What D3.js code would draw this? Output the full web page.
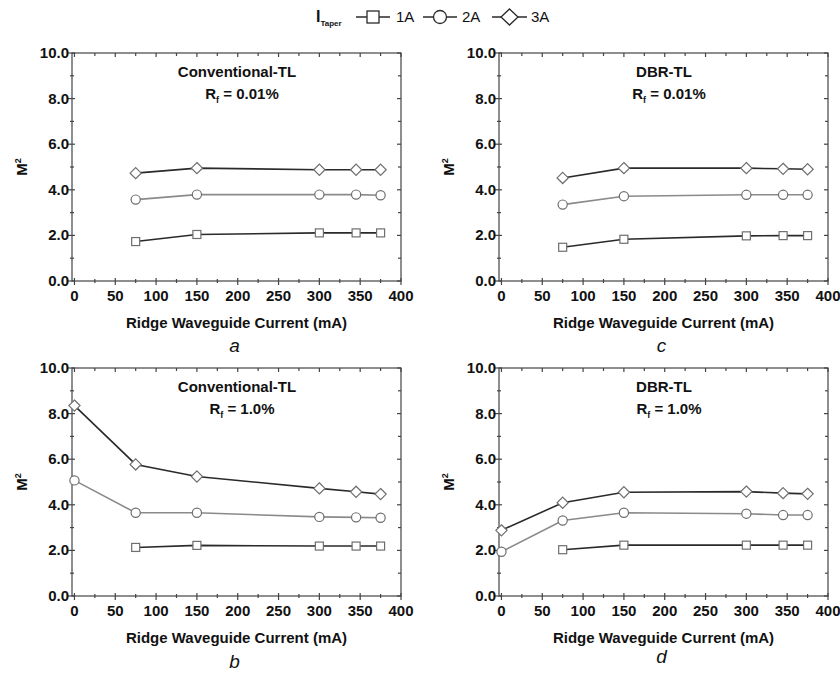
<!DOCTYPE html>
<html><head><meta charset="utf-8">
<script src="https://cdn.jsdelivr.net/npm/d3@7"></script>
<style>body{margin:0;background:#fff;} svg{display:block;font-family:"Liberation Sans",Arial,sans-serif;}</style>
</head><body>
<svg id="chart" width="840" height="675"></svg>
<script>
// ---- data ----
const currents = [0, 75, 150, 300, 345, 375];
const seriesNames = ["1A", "2A", "3A"];
const xTicks = [0, 50, 100, 150, 200, 250, 300, 350, 400];
const yTicks = [0, 2, 4, 6, 8, 10];
// null = no measurement
const convLow_1A = [null, 1.73, 2.04, 2.11, 2.11, 2.11];
const convLow_2A = [null, 3.57, 3.79, 3.79, 3.79, 3.76];
const convLow_3A = [null, 4.73, 4.95, 4.88, 4.88, 4.88];
const dbrLow_1A = [null, 1.48, 1.83, 1.98, 1.99, 1.99];
const dbrLow_2A = [null, 3.35, 3.72, 3.78, 3.78, 3.78];
const dbrLow_3A = [null, 4.52, 4.95, 4.95, 4.92, 4.90];
const convHigh_1A = [null, 2.13, 2.22, 2.19, 2.19, 2.19];
const convHigh_2A = [5.07, 3.65, 3.65, 3.47, 3.45, 3.43];
const convHigh_3A = [8.35, 5.77, 5.24, 4.72, 4.57, 4.47];
const dbrHigh_1A = [null, 2.03, 2.23, 2.23, 2.23, 2.23];
const dbrHigh_2A = [1.94, 3.31, 3.65, 3.61, 3.55, 3.55];
const dbrHigh_3A = [2.88, 4.09, 4.55, 4.58, 4.51, 4.48];

const panels = [
  {title: "Conventional-TL", rf: "0.01%", letter: "a", series: [convLow_1A, convLow_2A, convLow_3A], box: [72, 401, 53, 281], titleX: 237, letterY: 346},
  {title: "DBR-TL", rf: "0.01%", letter: "c", series: [dbrLow_1A, dbrLow_2A, dbrLow_3A], box: [499, 828, 53, 281], titleX: 664, letterY: 346},
  {title: "Conventional-TL", rf: "1.0%", letter: "b", series: [convHigh_1A, convHigh_2A, convHigh_3A], box: [72, 401, 368, 596], titleX: 237, letterY: 662},
  {title: "DBR-TL", rf: "1.0%", letter: "d", series: [dbrHigh_1A, dbrHigh_2A, dbrHigh_3A], box: [499, 828, 368, 596], titleX: 664, letterY: 657}
];

const lineColor = {"1A": "#2a2a2a", "2A": "#8a8a8a", "3A": "#2a2a2a"};
const markerStroke = "#6e6e6e";
const axisColor = "#444";

const svg = d3.select("#chart");

function marker(g, name, x, y) {
  if (name === "1A") {
    g.append("rect").attr("x", x - 4).attr("y", y - 4).attr("width", 8).attr("height", 8)
      .attr("fill", "#fff").attr("stroke", markerStroke).attr("stroke-width", 1.2);
  } else if (name === "2A") {
    g.append("circle").attr("cx", x).attr("cy", y).attr("r", 4.6)
      .attr("fill", "#fff").attr("stroke", markerStroke).attr("stroke-width", 1.2);
  } else {
    g.append("path").attr("d", `M${x},${y - 5.6}L${x + 5.6},${y}L${x},${y + 5.6}L${x - 5.6},${y}Z`)
      .attr("fill", "#fff").attr("stroke", markerStroke).attr("stroke-width", 1.2);
  }
}

panels.forEach(p => {
  const [L, R, T, B] = p.box;
  const x = d3.scaleLinear().domain([-3, 400]).range([L, R]);
  const y = d3.scaleLinear().domain([0, 10]).range([B, T]);
  const g = svg.append("g");

  // frame
  g.append("rect").attr("x", L).attr("y", T).attr("width", R - L).attr("height", B - T)
    .attr("fill", "none").attr("stroke", axisColor).attr("stroke-width", 1.2);

  const xMinor = d3.range(25, 400, 50);
  const yMinor = d3.range(1, 10, 2);
  // bottom ticks (crossing)
  xTicks.forEach(v => g.append("line").attr("x1", x(v)).attr("x2", x(v)).attr("y1", B - 3).attr("y2", B + 4).attr("stroke", axisColor).attr("stroke-width", 1.2));
  xMinor.forEach(v => g.append("line").attr("x1", x(v)).attr("x2", x(v)).attr("y1", B - 2).attr("y2", B + 2).attr("stroke", axisColor).attr("stroke-width", 1.2));
  // top ticks (inward)
  xTicks.forEach(v => g.append("line").attr("x1", x(v)).attr("x2", x(v)).attr("y1", T).attr("y2", T + 4).attr("stroke", axisColor).attr("stroke-width", 1.2));
  xMinor.forEach(v => g.append("line").attr("x1", x(v)).attr("x2", x(v)).attr("y1", T).attr("y2", T + 3).attr("stroke", axisColor).attr("stroke-width", 1.2));
  // left ticks (crossing)
  yTicks.forEach(v => g.append("line").attr("x1", L - 4).attr("x2", L + 3).attr("y1", y(v)).attr("y2", y(v)).attr("stroke", axisColor).attr("stroke-width", 1.2));
  yMinor.forEach(v => g.append("line").attr("x1", L - 2).attr("x2", L + 2).attr("y1", y(v)).attr("y2", y(v)).attr("stroke", axisColor).attr("stroke-width", 1.2));
  // right ticks (inward)
  yTicks.forEach(v => g.append("line").attr("x1", R - 4).attr("x2", R).attr("y1", y(v)).attr("y2", y(v)).attr("stroke", axisColor).attr("stroke-width", 1.2));
  yMinor.forEach(v => g.append("line").attr("x1", R - 3).attr("x2", R).attr("y1", y(v)).attr("y2", y(v)).attr("stroke", axisColor).attr("stroke-width", 1.2));

  // tick labels
  g.selectAll(".xl").data(xTicks).enter().append("text")
    .attr("x", d => x(d)).attr("y", B + 20).attr("text-anchor", "middle")
    .attr("font-size", 15).attr("font-weight", "bold").attr("fill", "#111").text(d => d);
  g.selectAll(".yl").data(yTicks).enter().append("text")
    .attr("x", L - 3).attr("y", d => y(d) + 5).attr("text-anchor", "end")
    .attr("font-size", 15).attr("font-weight", "bold").attr("fill", "#111").text(d => d3.format(".1f")(d));

  // axis titles
  g.append("text").attr("x", (L + R) / 2).attr("y", B + 47).attr("text-anchor", "middle")
    .attr("font-size", 15).attr("font-weight", "bold").attr("fill", "#111").text("Ridge Waveguide Current (mA)");
  const yt = g.append("text").attr("transform", `translate(${L - 45},${(T + B) / 2}) rotate(-90)`)
    .attr("text-anchor", "middle").attr("font-size", 15).attr("font-weight", "bold").attr("fill", "#111");
  yt.append("tspan").text("M");
  yt.append("tspan").attr("dy", -6).attr("font-size", 9).text("2");

  // panel letter
  g.append("text").attr("x", (L + R) / 2 - 2).attr("y", p.letterY + 6).attr("text-anchor", "middle")
    .attr("font-size", 19).attr("font-style", "italic").attr("fill", "#111").text(p.letter);

  // title
  g.append("text").attr("x", p.titleX).attr("y", T + 24).attr("text-anchor", "middle")
    .attr("font-size", 15).attr("font-weight", "bold").attr("fill", "#111").text(p.title);
  const rt = g.append("text").attr("x", p.titleX + 5).attr("y", T + 46).attr("text-anchor", "middle")
    .attr("font-size", 15).attr("font-weight", "bold").attr("fill", "#111");
  rt.append("tspan").text("R");
  rt.append("tspan").attr("dy", 4).attr("font-size", 9).text("f");
  rt.append("tspan").attr("dy", -4).text(" = " + p.rf);

  // series
  seriesNames.forEach((name, i) => {
    const vals = p.series[i];
    const pts = currents.map((c, j) => [c, vals[j]]).filter(d => d[1] !== null);
    const line = d3.line().x(d => x(d[0])).y(d => y(d[1]));
    g.append("path").attr("d", line(pts)).attr("fill", "none")
      .attr("stroke", lineColor[name]).attr("stroke-width", 1.6);
    pts.forEach(d => marker(g, name, x(d[0]), y(d[1])));
  });
});

// legend
const lg = svg.append("g");
const leg = lg.append("text").attr("x", 316).attr("y", 22).attr("font-size", 16).attr("font-weight", "bold").attr("fill", "#111");
leg.append("tspan").text("I");
leg.append("tspan").attr("dy", 4).attr("font-size", 8).text("Taper");
const legItems = [{name: "1A", x0: 356, x1: 390, tx: 396}, {name: "2A", x0: 423, x1: 457, tx: 462}, {name: "3A", x0: 492, x1: 527, tx: 531}];
legItems.forEach(it => {
  lg.append("line").attr("x1", it.x0).attr("x2", it.x1).attr("y1", 17).attr("y2", 17).attr("stroke", "#2a2a2a").attr("stroke-width", 1.4);
  const cx = (it.x0 + it.x1) / 2;
  if (it.name === "1A") lg.append("rect").attr("x", cx - 6).attr("y", 11).attr("width", 12).attr("height", 12).attr("fill", "#fff").attr("stroke", "#2a2a2a").attr("stroke-width", 1.3);
  else if (it.name === "2A") lg.append("circle").attr("cx", cx).attr("cy", 17).attr("r", 6.5).attr("fill", "#fff").attr("stroke", "#2a2a2a").attr("stroke-width", 1.3);
  else lg.append("path").attr("d", `M${cx},${17 - 8}L${cx + 8.5},17L${cx},${17 + 8}L${cx - 8.5},17Z`).attr("fill", "#fff").attr("stroke", "#2a2a2a").attr("stroke-width", 1.3);
  lg.append("text").attr("x", it.tx).attr("y", 22).attr("font-size", 15).attr("fill", "#111").text(it.name);
});
</script>
</body></html>
